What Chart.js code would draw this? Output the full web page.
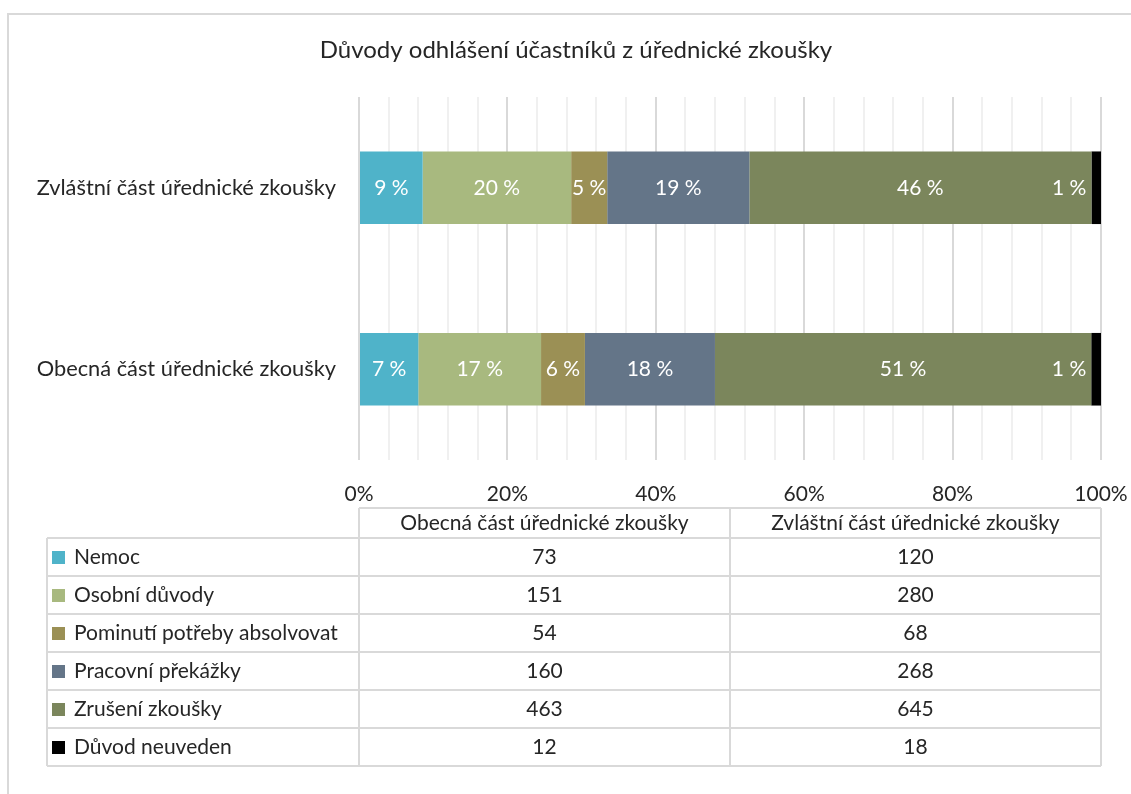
<!DOCTYPE html>
<html lang="cs">
<head>
<meta charset="utf-8">
<title>Důvody odhlášení účastníků z úřednické zkoušky</title>
<script src="https://cdn.jsdelivr.net/npm/chart.js@4.4.1/dist/chart.umd.min.js"></script>
<style>
  html, body { margin: 0; padding: 0; background: #ffffff; }
  #wrap { position: relative; width: 1131px; height: 794px; overflow: hidden; }
  canvas { display: block; }
</style>
</head>
<body>
<div id="wrap"><canvas id="chart" width="1131" height="794"></canvas></div>
<script>
// ---------- Data ----------
const chartTitle = 'Důvody odhlášení účastníků z úřednické zkoušky';
const parts = ['Obecná část úřednické zkoušky', 'Zvláštní část úřednické zkoušky'];
const reasons = ['Nemoc', 'Osobní důvody', 'Pominutí potřeby absolvovat', 'Pracovní překážky', 'Zrušení zkoušky', 'Důvod neuveden'];
const obecnaCounts = [73, 151, 54, 160, 463, 12];
const zvlastniCounts = [120, 280, 68, 268, 645, 18];
const obecnaLabels = ['7 %', '17 %', '6 %', '18 %', '51 %', '1 %'];
const zvlastniLabels = ['9 %', '20 %', '5 %', '19 %', '46 %', '1 %'];
const tickLabels = ['0%', '20%', '40%', '60%', '80%', '100%'];
const colors = ['#4fb3c9', '#a8b97f', '#9b9055', '#647588', '#7b865c', '#000000'];

const FONT = 'Lato, "Open Sans", sans-serif';
const TEXT = '#262626';
const LINE = '#d9d9d9';

// ---------- 100% skládání ----------
const sum = a => a.reduce((s, v) => s + v, 0);
const obecnaTotal = sum(obecnaCounts);
const zvlastniTotal = sum(zvlastniCounts);

// v grafu je Zvláštní část nahoře, v tabulce vlevo je Obecná
const barLabels = [parts[1], parts[0]];
const datasets = reasons.map((r, i) => ({
  label: r,
  data: [zvlastniCounts[i] / zvlastniTotal * 100, obecnaCounts[i] / obecnaTotal * 100],
  pctText: [zvlastniLabels[i], obecnaLabels[i]],
  backgroundColor: colors[i],
  borderWidth: 0,
  stack: 's'
}));

// ---------- Pluginy ----------
const frame = {
  id: 'frame',
  beforeDraw(chart) {
    const ctx = chart.ctx;
    ctx.save();
    ctx.strokeStyle = LINE;
    ctx.lineWidth = 2;
    ctx.beginPath();
    ctx.moveTo(8, 794); ctx.lineTo(8, 14); ctx.lineTo(1131, 14);
    ctx.stroke();
    ctx.fillStyle = TEXT;
    ctx.font = '24px ' + FONT;
    ctx.textAlign = 'center';
    ctx.textBaseline = 'middle';
    ctx.fillText(chartTitle, 576, 50);
    ctx.restore();
  }
};

const barText = {
  id: 'barText',
  afterDatasetsDraw(chart) {
    const ctx = chart.ctx;
    ctx.save();
    ctx.fillStyle = '#ffffff';
    ctx.font = '21px ' + FONT;
    ctx.textBaseline = 'middle';
    const last = chart.data.datasets.length - 1;
    chart.data.datasets.forEach((ds, di) => {
      chart.getDatasetMeta(di).data.forEach((el, j) => {
        const p = el.getProps(['x', 'y', 'base'], true);
        if (di === last) {
          ctx.textAlign = 'right';
          ctx.fillText(ds.pctText[j], p.base - 5, p.y);
        } else {
          ctx.textAlign = 'center';
          ctx.fillText(ds.pctText[j], (p.x + p.base) / 2, p.y);
        }
      });
    });
    ctx.restore();
  }
};

const dataTable = {
  id: 'dataTable',
  afterDraw(chart) {
    const ctx = chart.ctx, area = chart.chartArea;
    const left = 47, c1 = area.left, c3 = area.right, c2 = (c1 + c3) / 2;
    const top = area.bottom + 48, headH = 30, rowH = 38;
    const bodyTop = top + headH, bottom = bodyTop + rowH * reasons.length;
    ctx.save();
    ctx.strokeStyle = LINE;
    ctx.lineWidth = 2;
    ctx.beginPath();
    ctx.moveTo(c1, top); ctx.lineTo(c3, top);
    [c1, c2, c3].forEach(x => { ctx.moveTo(x, top); ctx.lineTo(x, bottom); });
    ctx.moveTo(left, bodyTop); ctx.lineTo(left, bottom);
    for (let i = 0; i <= reasons.length; i++) {
      const y = bodyTop + i * rowH;
      ctx.moveTo(left, y); ctx.lineTo(c3, y);
    }
    ctx.stroke();

    ctx.font = '21px ' + FONT;
    ctx.fillStyle = TEXT;
    ctx.textBaseline = 'middle';
    ctx.textAlign = 'center';
    ctx.fillText(parts[0], (c1 + c2) / 2, top + headH / 2);
    ctx.fillText(parts[1], (c2 + c3) / 2, top + headH / 2);
    reasons.forEach((r, i) => {
      const cy = bodyTop + i * rowH + rowH / 2;
      ctx.fillStyle = colors[i];
      ctx.fillRect(52, cy - 6, 13, 13);
      ctx.fillStyle = TEXT;
      ctx.textAlign = 'left';
      ctx.fillText(r, 74, cy);
      ctx.textAlign = 'center';
      ctx.fillText(String(obecnaCounts[i]), (c1 + c2) / 2, cy);
      ctx.fillText(String(zvlastniCounts[i]), (c2 + c3) / 2, cy);
    });
    ctx.restore();
  }
};

// ---------- Graf ----------
new Chart(document.getElementById('chart'), {
  type: 'bar',
  data: { labels: barLabels, datasets },
  options: {
    indexAxis: 'y',
    responsive: false,
    animation: false,
    layout: { padding: { top: 97, right: 30, bottom: 284, left: 0 } },
    datasets: { bar: { categoryPercentage: 0.4, barPercentage: 1 } },
    scales: {
      x: {
        stacked: true,
        min: 0, max: 100,
        afterFit: s => { s.height = 50; s.paddingLeft = 0; s.paddingRight = 0; },
        afterBuildTicks: s => { s.ticks = []; for (let v = 0; v <= 100; v += 4) s.ticks.push({ value: v }); },
        border: { display: false },
        grid: {
          drawTicks: false,
          lineWidth: 2,
          color: c => (c.tick && c.tick.value % 20 === 0) ? LINE : '#f0f0f0'
        },
        ticks: {
          autoSkip: false,
          maxRotation: 0,
          padding: 22,
          color: TEXT,
          font: { family: FONT, size: 21 },
          callback: v => (v % 20 === 0 ? tickLabels[v / 20] : '')
        }
      },
      y: {
        stacked: true,
        afterFit: s => { s.width = 359; },
        border: { display: false },
        grid: { display: false, drawTicks: false },
        ticks: { padding: 23, color: TEXT, font: { family: FONT, size: 21.8 } }
      }
    },
    plugins: {
      legend: { display: false },
      title: { display: false },
      tooltip: { enabled: false }
    }
  },
  plugins: [frame, barText, dataTable]
});
</script>
</body>
</html>
